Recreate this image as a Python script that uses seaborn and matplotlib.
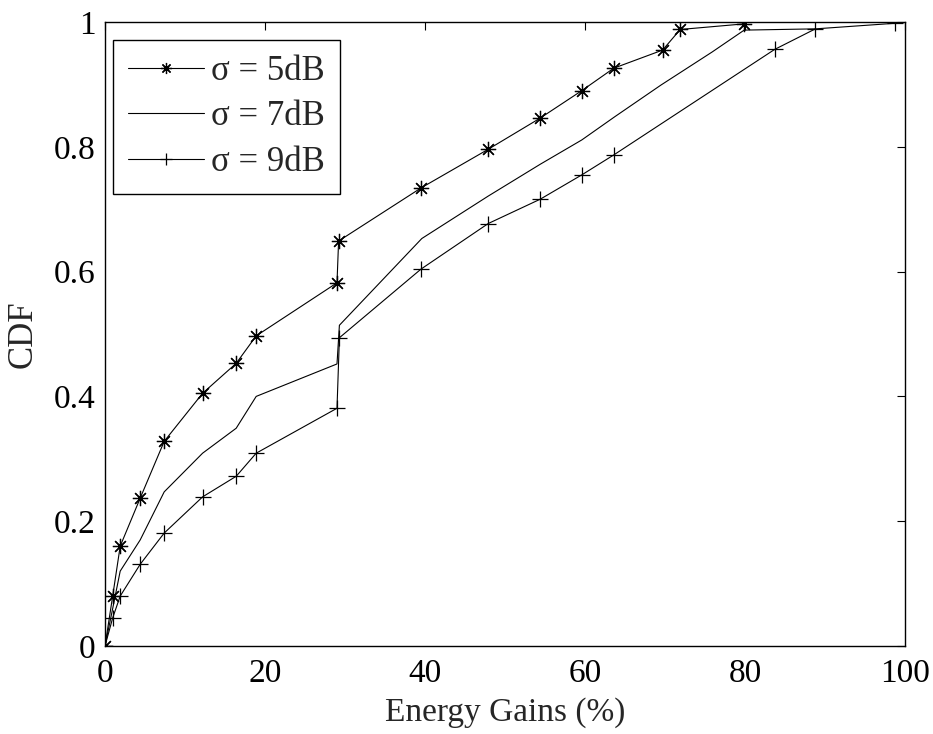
import matplotlib
matplotlib.use("Agg")
import matplotlib.pyplot as plt
import seaborn as sns
import pandas as pd

# ---- data ----
x_5db = [0, 0.96, 1.9, 4.4, 7.4, 12.2, 16.4, 18.9, 29.0, 29.2, 39.5, 47.9, 54.4, 59.6, 63.6, 69.7, 71.9, 79.9]
y_5db = [0, 0.080, 0.160, 0.237, 0.328, 0.405, 0.453, 0.497, 0.582, 0.649, 0.734, 0.796, 0.846, 0.890, 0.926, 0.955, 0.988, 0.997]

x_7db = [0, 0.96, 1.9, 4.4, 7.4, 12.2, 16.4, 18.9, 29.0, 29.3, 39.6, 47.9, 54.4, 59.6, 63.7, 69.5, 75.9, 79.9, 88.8]
y_7db = [0, 0.060, 0.120, 0.170, 0.247, 0.309, 0.349, 0.400, 0.452, 0.514, 0.653, 0.721, 0.772, 0.811, 0.848, 0.899, 0.952, 0.987, 0.989]

x_9db = [0, 0.96, 1.9, 4.4, 7.4, 12.2, 16.4, 18.9, 29.0, 29.3, 39.5, 47.9, 54.4, 59.6, 63.6, 83.7, 88.8, 98.8]
y_9db = [0, 0.045, 0.080, 0.131, 0.181, 0.239, 0.272, 0.309, 0.381, 0.494, 0.604, 0.677, 0.716, 0.755, 0.787, 0.956, 0.989, 0.998]

labels = ["σ = 5dB", "σ = 7dB", "σ = 9dB"]
x_ticks = [0, 20, 40, 60, 80, 100]
y_ticks = [0, 0.2, 0.4, 0.6, 0.8, 1.0]
y_tick_labels = ["0", "0.2", "0.4", "0.6", "0.8", "1"]

sns.set_style("white")
plt.rcParams["font.family"] = ["Liberation Serif", "DejaVu Serif"]

fig = plt.figure(figsize=(9.33, 7.34), dpi=100)
ax = fig.add_axes([105 / 933, (734 - 646) / 734, (905 - 105) / 933, (646 - 22) / 734])

common = dict(color="black", linewidth=0.8, estimator=None, sort=False, ax=ax)
sns.lineplot(data=pd.DataFrame({"x": x_5db, "y": y_5db}), x="x", y="y",
             marker=(8, 2, 0), markersize=11, markeredgewidth=0.9,
             markeredgecolor="black", label=labels[0], **common)
sns.lineplot(data=pd.DataFrame({"x": x_7db, "y": y_7db}), x="x", y="y",
             label=labels[1], **common)
sns.lineplot(data=pd.DataFrame({"x": x_9db, "y": y_9db}), x="x", y="y",
             marker="+", markersize=12, markeredgewidth=0.9,
             markeredgecolor="black", label=labels[2], **common)

ax.set_xlim(0, 100)
ax.set_ylim(0, 1)
ax.set_xticks(x_ticks)
ax.set_xticklabels([str(v) for v in x_ticks])
ax.set_yticks(y_ticks)
ax.set_yticklabels(y_tick_labels)
ax.tick_params(direction="in", length=6, width=0.8, top=True, right=True,
               labelsize=24, colors="black")
ax.tick_params(axis="y", pad=7)
ax.tick_params(axis="x", pad=9)
for s in ax.spines.values():
    s.set_color("black")
    s.set_linewidth(1.0)
    s.set_visible(True)

ax.set_xlabel("Energy Gains (%)", fontsize=24, labelpad=6)
ax.set_ylabel("CDF", fontsize=25, labelpad=10)

leg = ax.legend(loc="upper left", bbox_to_anchor=(8 / 800, 1 - 18 / 624),
                fontsize=25, frameon=True, fancybox=False, edgecolor="black",
                framealpha=1, handlelength=2.2, handletextpad=0.2,
                borderpad=0.43, labelspacing=0.36, borderaxespad=0, numpoints=1)
leg.get_frame().set_linewidth(1.0)
for h in leg.legend_handles:
    h.set_markersize(8)

fig.savefig("out.png", dpi=100)
